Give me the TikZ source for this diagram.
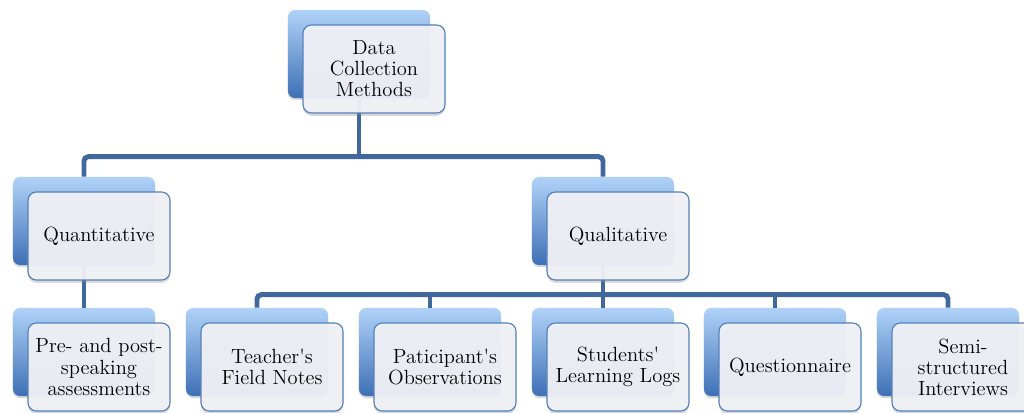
\documentclass[tikz,border=0pt]{standalone}
\usepackage{tikz}
\usetikzlibrary{shadows}

\definecolor{linkblue}{RGB}{65,104,156}
\definecolor{backtop}{RGB}{176,210,248}
\definecolor{backmid}{RGB}{112,162,224}
\definecolor{backbot}{RGB}{62,112,182}
\definecolor{frontfill}{RGB}{241,242,247}
\definecolor{frontline}{RGB}{82,127,186}

\begin{document}
\begin{tikzpicture}[x=0.025cm, y=-0.025cm,
	backbox/.style={rectangle, rounded corners=5pt, minimum width=3.55cm, minimum height=2.2cm, inner sep=0pt,
		top color=backtop, middle color=backmid, bottom color=backbot,
		drop shadow={shadow xshift=0pt, shadow yshift=-1.5pt, opacity=0.3}},
	frontbox/.style={rectangle, rounded corners=6pt, minimum width=3.55cm, minimum height=2.2cm, inner sep=2pt,
		draw=frontline, line width=0.8pt, fill=frontfill, fill opacity=0.94, text opacity=1,
		align=center, font=\fontsize{14.6}{15}\selectfont,
		drop shadow={shadow xshift=0pt, shadow yshift=-2pt, opacity=0.3}},
	link/.style={draw=linkblue, line width=3.5pt, rounded corners=3pt}]

	\useasboundingbox (0,0) rectangle (1024,413);

	% back boxes
	\node[backbox] (dcm) at (359,54) {};
	\node[backbox] (quan) at (84,221) {};
	\node[backbox] (qual) at (603,221) {};
	\node[backbox] (pre) at (84,352) {};
	\node[backbox] (notes) at (257,352) {};
	\node[backbox] (obs) at (430,352) {};
	\node[backbox] (logs) at (603,352) {};
	\node[backbox] (quest) at (775,352) {};
	\node[backbox] (inter) at (948,352) {};

	% connectors: trunks, then the two buses
	\draw[link, rounded corners=0pt] (dcm.south) -- ++(0,59);
	\draw[link] (quan.north) -- ++(0,-20) -| (qual.north);
	\draw[link] (quan.south) -- (pre.north);
	\draw[link] (qual.south) -- (logs.north);
	\draw[link] (notes.north) -- ++(0,-13) -| (inter.north);
	\draw[link] (obs.north) -- ++(0,-13);
	\draw[link] (quest.north) -- ++(0,-13);

	% front boxes with the labels
	\node[frontbox] (dcm-f) at (374,69) {Data\\Collection\\Methods};
	\node[frontbox] (quan-f) at (99,236) {Quantitative};
	\node[frontbox] (qual-f) at (618,236) {Qualitative};
	\node[frontbox] (pre-f) at (99,367) {Pre- and post-\\speaking\\assessments};
	\node[frontbox] (notes-f) at (272,367) {Teacher\textquotesingle s\\Field Notes};
	\node[frontbox] (obs-f) at (445,367) {Paticipant\textquotesingle s\\Observations};
	\node[frontbox] (logs-f) at (618,367) {Students\textquotesingle\\Learning Logs};
	\node[frontbox] (quest-f) at (790,367) {Questionnaire};
	\node[frontbox] (inter-f) at (963,367) {Semi-\\structured\\Interviews};

\end{tikzpicture}
\end{document}
